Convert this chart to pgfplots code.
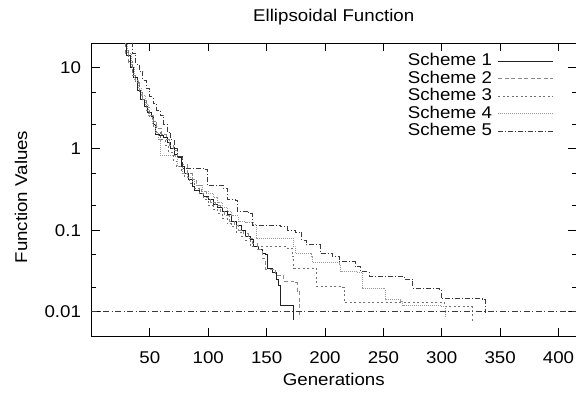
\documentclass[border=0pt]{standalone}
\usepackage{fontspec}
\setmainfont{Liberation Sans}[FakeStretch=1.1]
\usepackage{pgfplots}
\pgfplotsset{compat=1.18}
\newcommand\fs{\fontsize{17}{17}\selectfont}
\definecolor{cA}{HTML}{222222}
\definecolor{cB}{HTML}{8A8A8A}
\definecolor{cC}{HTML}{707070}
\definecolor{cD}{HTML}{9A9A9A}
\definecolor{cE}{HTML}{3A3A3A}
\begin{document}
\begin{tikzpicture}
\begin{axis}[
  scale only axis, width=484.5pt, height=293pt,
  xmin=0, xmax=415, ymode=log, ymin=0.005, ymax=20,
  axis line style={line width=0.9pt},
  xtick={50,100,...,400},
  ytick={0.01,0.1,1,10}, yticklabels={0.01,0.1,1,10},
  minor ytick={0.02,0.05,0.2,0.5,2,5},
  tick align=inside, major tick length=8pt, minor tick length=4pt,
  every tick/.style={black, line width=0.9pt},
  ticklabel style={font=\fs},
  /pgf/number format/assume math mode=true,
  xticklabel style={yshift=-12pt},
  yticklabel style={xshift=-7pt},
  legend style={draw=none, fill=none, at={(1,1)}, anchor=north east,
    xshift=-19pt, yshift=-8pt, font=\fs, row sep=2pt,
    nodes={inner ysep=0pt, inner xsep=6pt, text height=12.5pt, text depth=3pt}},
  legend cell align=right, legend plot pos=right,
  legend image code/.code={\draw[#1] (0pt,0pt) -- (55pt,0pt);},
  every axis plot/.append style={line width=0.8pt, const plot},
]
\coordinate (bl) at (rel axis cs:0,0);
\coordinate (tr) at (rel axis cs:1,1);
\coordinate (tc) at (rel axis cs:0.5,1);
\coordinate (bc) at (rel axis cs:0.5,0);
\coordinate (lc) at (rel axis cs:0,0.5);
% Scheme 1
\addplot[cA] coordinates {
(27,25) (30,14) (33,10) (36,7.5) (39,5.2) (42,4.0) (45,3.3) (48,2.8) (51,2.5)
(53,2.0) (55,1.5) (58,1.45) (62,1.4) (65,1.2) (68,1.0) (71,0.85) (74,0.78)
(77,0.6) (80,0.5) (83,0.42) (86,0.35) (88,0.31) (92,0.28) (96,0.26) (100,0.24)
(104,0.21) (108,0.19) (112,0.17) (116,0.155) (120,0.13) (124,0.115) (128,0.1)
(132,0.085) (136,0.076) (139,0.063) (143,0.058) (146,0.052) (149,0.050)
(150.5,0.034) (155,0.03) (158,0.025) (160.5,0.021) (162,0.012) (173.3,0.0079)};
\addlegendentry{Scheme 1}
% Scheme 2
\addplot[cB, dash pattern=on 4pt off 2.5pt] coordinates {
(25,25) (29,15) (32,11) (35,8) (38,6.5) (41,5) (44,4) (47,3.2) (50,2.6)
(53,2.2) (56,1.8) (60,1.5) (64,1.3) (67,1.1) (70,0.95) (74,0.8) (78,0.65)
(82,0.5) (86,0.42) (90,0.36) (94,0.3) (98,0.25) (102,0.22) (106,0.2)
(110,0.17) (114,0.15) (118,0.13) (122,0.115) (126,0.1) (130,0.09) (134,0.08)
(138,0.068) (142,0.058) (146,0.045) (149,0.033) (157.6,0.028) (164.7,0.0236)
(173.3,0.0225) (176.2,0.0178) (178.5,0.0091)};
\addlegendentry{Scheme 2}
% Scheme 3
\addplot[cC, dash pattern=on 2pt off 2.5pt] coordinates {
(26,25) (29,16) (32,12) (35,8.5) (38,6.5) (41,5) (44,4) (47,3.0) (50,2.4)
(53,1.9) (56,1.6) (59,1.3) (63,1.1) (66,0.9) (70,0.7) (73,0.6) (77,0.5)
(80,0.45) (84,0.38) (88,0.33) (92,0.28) (96,0.24) (100,0.2) (104,0.18)
(108,0.16) (112,0.14) (116,0.12) (120,0.11) (124,0.095) (128,0.085)
(132,0.075) (136,0.063) (167.7,0.060) (172,0.048) (173.3,0.034)
(192.8,0.0204) (214.9,0.020) (216.3,0.013) (299.3,0.013) (302,0.0116)
(325,0.0115) (326.5,0.0073)};
\addlegendentry{Scheme 3}
% Scheme 4
\addplot[cD, dash pattern=on 1pt off 1pt] coordinates {
(28,25) (31,15) (34,10) (37,7) (40,5.5) (43,4.5) (46,3.5) (49,2.6) (52,2.0)
(55,1.6) (57.4,1.29) (58.9,0.84) (71.7,0.8) (74,0.6) (78,0.5) (82,0.45)
(86,0.4) (90,0.36) (95,0.3) (100,0.28) (104,0.25) (108,0.22) (112,0.19)
(116,0.17) (120,0.15) (126,0.13) (132,0.125) (139,0.117) (141,0.08)
(173,0.063) (175,0.052) (188,0.048) (189,0.040) (212,0.038) (213.4,0.031)
(228,0.030) (232,0.0195) (250.6,0.019) (252,0.014) (265,0.0134)
(266.4,0.0118) (299.3,0.0116) (303.3,0.0084)};
\addlegendentry{Scheme 4}
% Scheme 5
\addplot[cE, dash pattern=on 5pt off 2pt on 1pt off 2pt] coordinates {
(32,25) (35,15) (38,11) (41,9) (44,7) (47,5.5) (50,4.4) (53,3.6) (56,3.0)
(59,2.6) (62,2.0) (65,1.6) (68,1.3) (71,1.0) (74,0.8) (77.5,0.58) (96,0.56)
(99,0.36) (113,0.33) (116,0.24) (123.3,0.23) (124.7,0.17) (134.7,0.16)
(137.6,0.115) (162,0.111) (168,0.1) (175,0.095) (180,0.075) (184,0.066)
(196,0.052) (206,0.048) (212,0.041) (226,0.0355) (230.6,0.031) (237.7,0.027)
(268,0.025) (275,0.0195) (298,0.0186) (299.5,0.0144) (335,0.014) (337.3,0.0095)};
\addlegendentry{Scheme 5}
% target line
\addplot[cE, dash pattern=on 6pt off 2.5pt on 1pt off 2.5pt, forget plot] coordinates {(0,0.01) (415,0.01)};
\end{axis}
\node[font=\fs] at ([yshift=26pt]tc) {Ellipsoidal Function};
\node[font=\fs] at ([yshift=-43pt]bc) {Generations};
\node[font=\fs, rotate=90] at ([xshift=-70.5pt, yshift=-7.5pt]lc) {Function Values};
\pgfresetboundingbox
\path ([xshift=-91.5pt,yshift=-56pt]bl) rectangle ([yshift=43pt]tr);
\end{tikzpicture}
\end{document}
